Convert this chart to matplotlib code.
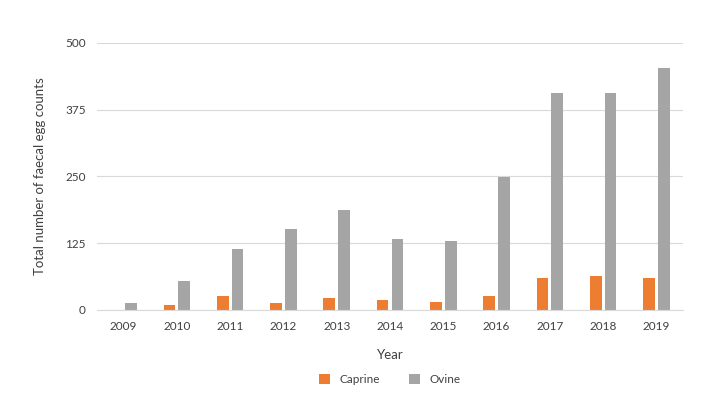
import matplotlib
matplotlib.use("Agg")
import matplotlib.pyplot as plt
import numpy as np

years = ["2009", "2010", "2011", "2012", "2013", "2014", "2015", "2016", "2017", "2018", "2019"]
caprine = [0, 9, 26, 13, 22, 19, 15, 26, 60, 64, 60]
ovine = [13, 54, 114, 152, 187, 133, 129, 249, 406, 406, 453]

plt.rcParams["font.family"] = "Lato"
fig = plt.figure(figsize=(7.13, 4.2), dpi=100)
ax = fig.add_axes([0.136, 0.262, 0.822, 0.636])

x = np.arange(len(years))
w = 0.22
ax.bar(x - w / 2 - 0.03, caprine, w, color="#ED7D31", label="Caprine")
ax.bar(x + w / 2 + 0.03, ovine, w, color="#A5A5A5", label="Ovine")

ax.set_xlim(-0.5, len(years) - 0.5)
ax.set_ylim(0, 500)
ax.set_yticks([0, 125, 250, 375, 500])
ax.set_xticks(x)
ax.set_xticklabels(years)
ax.grid(axis="y", color="#D9D9D9", linewidth=0.8)
ax.set_axisbelow(True)
for s in ["top", "right", "left"]:
    ax.spines[s].set_visible(False)
ax.spines["bottom"].set_color("#D9D9D9")
ax.tick_params(length=0, labelsize=8.5, colors="#404040", pad=8)
ax.set_xlabel("Year", fontsize=9.5, color="#404040", labelpad=12)
ax.set_ylabel("Total number of faecal egg counts", fontsize=9.5, color="#404040", labelpad=14)
ax.legend(loc="upper center", bbox_to_anchor=(0.5, -0.2), ncol=2, frameon=False,
          fontsize=8.5, handlelength=0.9, handleheight=0.9, columnspacing=2.5,
          labelcolor="#404040")

fig.savefig("out.png", dpi=100)
